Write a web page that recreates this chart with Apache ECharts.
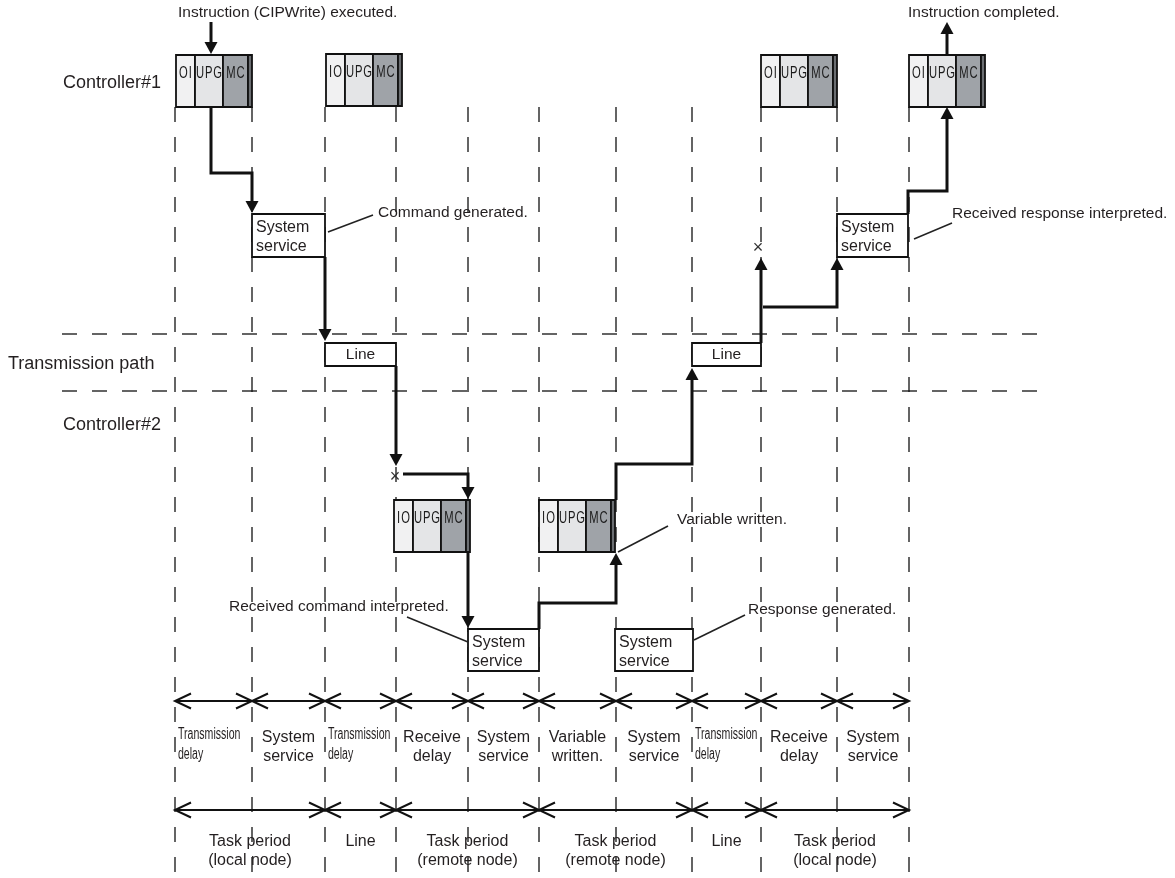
<!DOCTYPE html>
<html>
<head>
<meta charset="utf-8">
<script src="https://cdn.jsdelivr.net/npm/echarts@6/dist/echarts.min.js"></script>
<style>
html, body { margin: 0; padding: 0; background: #fff; }
#chart { width: 1175px; height: 878px; }
</style>
</head>
<body>
<div id="chart"></div>
<script>
const chart = echarts.init(document.getElementById("chart"));

// column boundaries on the time axis
const boundaries = [175, 252, 325, 396, 468, 539, 616, 692, 761, 837, 909];
const dashSpan = [107, 878];
const laneDividers = [334, 391];
const laneDividerSpan = [62, 1045];

const laneNames = ["Controller#1", "Transmission path", "Controller#2"];
const laneNameX = [63, 8, 63];
const laneNameY = [83, 364, 425];

// task executions (IO/OI, UPG, MC)
const taskStart = [176, 326, 761, 909, 394, 539];
const taskTop = [55, 54, 55, 55, 500, 500];
const taskFirst = ["OI", "IO", "OI", "OI", "IO", "IO"];
const taskCells = [19, 28, 25, 4];
const taskCellNames = [null, "UPG", "MC", null];
const taskHeight = 52;

// processing boxes [x0, y0, x1, y1]
const boxes = [
    [252, 214, 325, 257],
    [325, 343, 396, 366],
    [468, 629, 539, 671],
    [615, 629, 693, 671],
    [692, 343, 761, 366],
    [837, 214, 908, 257]
];
const boxText = ["System\nservice", "Line", "System\nservice", "System\nservice", "Line", "System\nservice"];

// signal flow, each ends in an arrow
const flows = [
    [[211, 22], [211, 54]],
    [[211, 107], [211, 173], [252, 173], [252, 213]],
    [[325, 257], [325, 341]],
    [[396, 366], [396, 466]],
    [[403, 474], [468, 474], [468, 499]],
    [[468, 551], [468, 628]],
    [[539, 629], [539, 603], [616, 603], [616, 553]],
    [[616, 500], [616, 464], [692, 464], [692, 368]],
    [[761, 343], [761, 258]],
    [[763, 307], [837, 307], [837, 258]],
    [[908, 214], [908, 191], [947, 191], [947, 107]],
    [[947, 55], [947, 22]]
];
const crosses = [[395, 477], [758, 248]];

// callouts
const leaders = [
    [[328, 232], [373, 215]],
    [[914, 239], [952, 223]],
    [[407, 617], [468, 642]],
    [[668, 526], [618, 552]],
    [[745, 615], [694, 640]]
];
const notes = [
    "Instruction (CIPWrite) executed.",
    "Instruction completed.",
    "Command generated.",
    "Received response interpreted.",
    "Received command interpreted.",
    "Variable written.",
    "Response generated."
];
const noteX = [178, 908, 378, 952, 229, 677, 748];
const noteY = [13, 13, 213, 214, 607, 520, 610];

// time breakdown rows
const row1Y = 701;
const row1Labels = [
    "Transmission\ndelay", "System\nservice", "Transmission\ndelay", "Receive\ndelay", "System\nservice",
    "Variable\nwritten.", "System\nservice", "Transmission\ndelay", "Receive\ndelay", "System\nservice"
];
const row2Y = 810;
const row2Spans = [[0, 2], [2, 3], [3, 5], [5, 7], [7, 8], [8, 10]];
const row2Labels = [
    "Task period\n(local node)", "Line", "Task period\n(remote node)",
    "Task period\n(remote node)", "Line", "Task period\n(local node)"
];

const INK = "#111";
const TEXT = "#231f20";
const FONT = "'Liberation Sans', Arial, sans-serif";

function headPoints(p, q, len, half) {
    const dx = q[0] - p[0], dy = q[1] - p[1];
    const d = Math.sqrt(dx * dx + dy * dy) || 1;
    const ux = dx / d, uy = dy / d;
    const bx = q[0] - ux * len, by = q[1] - uy * len;
    return [[bx - uy * half, by + ux * half], q, [bx + uy * half, by - ux * half]];
}

function textEl(x, y, text, opt) {
    return {
        type: "text",
        x: x,
        y: y,
        scaleX: opt.scaleX || 1,
        style: {
            text: text,
            x: 0,
            y: 0,
            fill: opt.fill || TEXT,
            fontSize: opt.size || 16,
            fontFamily: FONT,
            fontWeight: opt.weight || "normal",
            align: opt.align || "left",
            verticalAlign: opt.valign || "middle",
            lineHeight: opt.lineHeight || 19
        }
    };
}

function dashedLine(a, b) {
    return {
        type: "line",
        shape: { x1: a[0], y1: a[1], x2: b[0], y2: b[1] },
        style: { stroke: INK, lineWidth: 1.3, lineDash: [15, 15] }
    };
}

function doubleArrow(api, x0, x1, y) {
    const a = api.coord([x0, y]);
    const b = api.coord([x1, y]);
    return [
        { type: "line", shape: { x1: a[0], y1: a[1], x2: b[0], y2: b[1] }, style: { stroke: INK, lineWidth: 2 } },
        { type: "polyline", shape: { points: headPoints(b, a, 16, 7.5) }, style: { stroke: INK, lineWidth: 2, fill: null } },
        { type: "polyline", shape: { points: headPoints(a, b, 16, 7.5) }, style: { stroke: INK, lineWidth: 2, fill: null } }
    ];
}

const option = {
    backgroundColor: "#fff",
    animation: false,
    grid: { left: 0, right: 0, top: 0, bottom: 0 },
    xAxis: { type: "value", min: 0, max: 1175, show: false },
    yAxis: { type: "value", min: 0, max: 878, inverse: true, show: false },
    series: [
        {
            // vertical column boundaries
            type: "custom",
            clip: false,
            z: 1,
            data: boundaries.map(b => [b, dashSpan[0]]),
            renderItem: function (params, api) {
                const x = api.value(0);
                return dashedLine(api.coord([x, dashSpan[0]]), api.coord([x, dashSpan[1]]));
            }
        },
        {
            // lane dividers
            type: "custom",
            clip: false,
            z: 1,
            data: laneDividers.map(y => [laneDividerSpan[0], y]),
            renderItem: function (params, api) {
                const y = api.value(1);
                return dashedLine(api.coord([laneDividerSpan[0], y]), api.coord([laneDividerSpan[1], y]));
            }
        },
        {
            // lane names
            type: "custom",
            clip: false,
            z: 5,
            data: laneNames.map((n, i) => [laneNameX[i], laneNameY[i]]),
            renderItem: function (params, api) {
                const p = api.coord([api.value(0), api.value(1)]);
                return textEl(p[0], p[1], laneNames[params.dataIndex], { size: 18 });
            }
        },
        {
            // task executions
            type: "custom",
            clip: false,
            z: 3,
            data: taskStart.map((x, i) => [x, taskTop[i]]),
            renderItem: function (params, api) {
                const i = params.dataIndex;
                const fills = ["#f1f1f2", "#e4e5e7", "#9fa3a8", "#6b6e72"];
                const children = [];
                let x = api.value(0);
                const y = api.value(1);
                taskCells.forEach((w, k) => {
                    const a = api.coord([x, y]);
                    const b = api.coord([x + w, y + taskHeight]);
                    children.push({
                        type: "rect",
                        shape: { x: a[0], y: a[1], width: b[0] - a[0], height: b[1] - a[1] },
                        style: { fill: fills[k], stroke: INK, lineWidth: 1.8 }
                    });
                    const name = k === 0 ? taskFirst[i] : taskCellNames[k];
                    if (name) {
                        const c = api.coord([x + w / 2, y + 18]);
                        children.push(textEl(c[0], c[1], name.split("").join("\u200a"), {
                            size: 17, align: "center", scaleX: 0.66, fill: "#1a1a1a"
                        }));
                    }
                    x += w;
                });
                return { type: "group", children: children };
            }
        },
        {
            // processing boxes
            type: "custom",
            clip: false,
            z: 3,
            data: boxes.map(b => [b[0], b[1]]),
            renderItem: function (params, api) {
                const b = boxes[params.dataIndex];
                const a = api.coord([b[0], b[1]]);
                const c = api.coord([b[2], b[3]]);
                const text = boxText[params.dataIndex];
                const single = text.indexOf("\n") < 0;
                return {
                    type: "group",
                    children: [
                        {
                            type: "rect",
                            shape: { x: a[0], y: a[1], width: c[0] - a[0], height: c[1] - a[1] },
                            style: { fill: "#fff", stroke: INK, lineWidth: 1.8 }
                        },
                        single
                            ? textEl((a[0] + c[0]) / 2, (a[1] + c[1]) / 2, text, { size: 15.5, align: "center" })
                            : textEl(a[0] + 4, (a[1] + c[1]) / 2 + 2, text, { size: 16, lineHeight: 19 })
                    ]
                };
            }
        },
        {
            // signal flow
            type: "custom",
            clip: false,
            z: 4,
            data: flows.map(f => f[f.length - 1]),
            renderItem: function (params, api) {
                const pts = flows[params.dataIndex].map(p => api.coord(p));
                const n = pts.length;
                const head = headPoints(pts[n - 2], pts[n - 1], 12, 6.5);
                const line = pts.slice(0, n - 1);
                const mid = [(head[0][0] + head[2][0]) / 2, (head[0][1] + head[2][1]) / 2];
                line.push(mid);
                return {
                    type: "group",
                    children: [
                        { type: "polyline", shape: { points: line }, style: { stroke: INK, lineWidth: 3, fill: null, lineJoin: "miter" } },
                        { type: "polygon", shape: { points: head }, style: { fill: INK } }
                    ]
                };
            }
        },
        {
            // lost-cycle marks
            type: "custom",
            clip: false,
            z: 5,
            data: crosses,
            renderItem: function (params, api) {
                const p = api.coord([api.value(0), api.value(1)]);
                return textEl(p[0], p[1], "\u00d7", { size: 18, align: "center", fill: "#333" });
            }
        },
        {
            // callout leaders
            type: "custom",
            clip: false,
            z: 4,
            data: leaders.map(l => l[0]),
            renderItem: function (params, api) {
                const l = leaders[params.dataIndex];
                const a = api.coord(l[0]);
                const b = api.coord(l[1]);
                return { type: "line", shape: { x1: a[0], y1: a[1], x2: b[0], y2: b[1] }, style: { stroke: "#222", lineWidth: 1.6 } };
            }
        },
        {
            // callout texts
            type: "custom",
            clip: false,
            z: 5,
            data: notes.map((n, i) => [noteX[i], noteY[i]]),
            renderItem: function (params, api) {
                const p = api.coord([api.value(0), api.value(1)]);
                return textEl(p[0], p[1], notes[params.dataIndex], { size: 15.5 });
            }
        },
        {
            // breakdown row 1
            type: "custom",
            clip: false,
            z: 4,
            data: row1Labels.map((t, i) => [boundaries[i], row1Y]),
            renderItem: function (params, api) {
                const i = params.dataIndex;
                const x0 = boundaries[i], x1 = boundaries[i + 1];
                const children = doubleArrow(api, x0, x1, row1Y);
                const t = row1Labels[i];
                if (t.indexOf("Transmission") === 0) {
                    const p = api.coord([x0 + 3, 745]);
                    children.push(textEl(p[0], p[1], t, { size: 16, scaleX: 0.66, lineHeight: 20 }));
                } else {
                    const p = api.coord([(x0 + x1) / 2, 747]);
                    children.push(textEl(p[0], p[1], t, { size: 16, align: "center", lineHeight: 19 }));
                }
                return { type: "group", children: children };
            }
        },
        {
            // breakdown row 2
            type: "custom",
            clip: false,
            z: 4,
            data: row2Spans.map(s => [boundaries[s[0]], row2Y]),
            renderItem: function (params, api) {
                const s = row2Spans[params.dataIndex];
                const x0 = boundaries[s[0]], x1 = boundaries[s[1]];
                const children = doubleArrow(api, x0, x1, row2Y);
                const p = api.coord([(x0 + x1) / 2, 832]);
                children.push(textEl(p[0], p[1], row2Labels[params.dataIndex], { size: 16, align: "center", valign: "top", lineHeight: 19 }));
                return { type: "group", children: children };
            }
        }
    ]
};

chart.setOption(option);

window.addEventListener("resize", () => chart.resize());
</script>
</body>
</html>
